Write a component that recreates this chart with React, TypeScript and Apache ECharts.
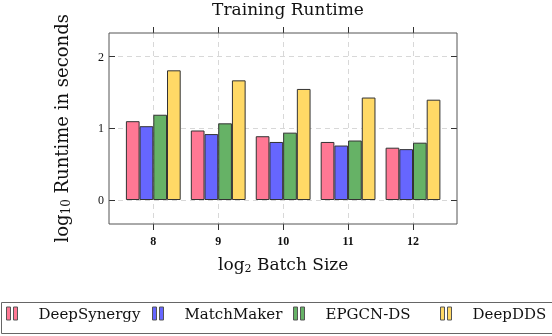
import React, { useEffect, useRef } from "react";
import * as echarts from "echarts";

const categories = ["8", "9", "10", "11", "12"];
const deepSynergy = [1.1, 0.97, 0.89, 0.81, 0.73];
const matchMaker = [1.03, 0.92, 0.81, 0.76, 0.71];
const epgcnDS = [1.19, 1.07, 0.94, 0.83, 0.8];
const deepDDS = [1.81, 1.67, 1.55, 1.43, 1.4];
const seriesNames = ["DeepSynergy", "MatchMaker", "EPGCN-DS", "DeepDDS"];
const seriesColors = ["#ff7894", "#6666ff", "#66b266", "#ffd966"];
const yTicks = [0, 2, 1];

const SERIF = "'Liberation Serif', 'DejaVu Serif', serif";
const WIDE = "'DejaVu Serif', 'Liberation Serif', serif";

export default function App() {
  const ref = useRef<HTMLDivElement>(null);
  useEffect(() => {
    if (!ref.current) return;
    const chart = echarts.init(ref.current, undefined, { renderer: "svg" });
    const values = [deepSynergy, matchMaker, epgcnDS, deepDDS];
    const plotL = 109, plotW = 348, plotT = 33, plotH = 191;
    const catL = 153.3, catW = 259.7;
    const y0 = 200, y2 = 56.7;
    const dashed = { show: true, lineStyle: { color: "#d8d8d8", type: [5, 4] as any, width: 1 } };
    const legendLefts = [6, 152, 293, 440];
    chart.setOption({
      animation: false,
      title: {
        text: "Training Runtime",
        left: 283,
        textAlign: "center",
        top: -5,
        textStyle: { fontFamily: WIDE, fontSize: 17, fontWeight: "normal", color: "#111" },
      },
      grid: [
        { left: plotL, top: plotT, width: plotW, height: plotH, show: true, borderColor: "#555", borderWidth: 1, backgroundColor: "transparent", z: 5 },
        { left: plotL, top: y2, width: plotW, height: y0 - y2 },
        { left: catL, top: plotT, width: catW, height: plotH },
        { left: catL, top: y2, width: catW, height: y0 - y2 },
      ],
      xAxis: [
        { gridIndex: 0, type: "value", show: false },
        { gridIndex: 1, type: "value", show: false },
        {
          gridIndex: 2, type: "category", data: categories, boundaryGap: false, position: "bottom",
          axisLine: { show: false },
          axisTick: { show: true, inside: false, length: 6, interval: 0, lineStyle: { color: "#333" } },
          axisLabel: { interval: 0, margin: 11, fontFamily: SERIF, fontSize: 12, fontWeight: "bold", color: "#111" },
          splitLine: { ...dashed, interval: 0 },
          name: "{m|log}{s|2}{m| Batch Size}",
          nameLocation: "middle",
          nameGap: 29,
          nameTextStyle: {
            rich: {
              m: { fontFamily: WIDE, fontSize: 17, color: "#111", lineHeight: 22 },
              s: { fontFamily: WIDE, fontSize: 11, color: "#111", padding: [9, 0, 0, 0] },
            },
          },
        },
        {
          gridIndex: 2, type: "category", data: categories, boundaryGap: false, position: "top",
          axisLine: { show: false },
          axisTick: { show: true, inside: false, length: 6, interval: 0, lineStyle: { color: "#333" } },
          axisLabel: { show: false },
          splitLine: { show: false },
        },
        { gridIndex: 3, type: "category", data: categories, boundaryGap: false, show: false },
      ],
      yAxis: [
        { gridIndex: 0, type: "value", show: false },
        {
          gridIndex: 1, type: "value", min: yTicks[0], max: yTicks[1], interval: yTicks[2], position: "left",
          axisLine: { show: false },
          axisTick: { show: true, inside: true, length: 6, lineStyle: { color: "#333" } },
          axisLabel: { margin: 5, fontFamily: SERIF, fontSize: 12, color: "#111" },
          splitLine: dashed,
          name: "{m|log}{s|10}{m| Runtime in seconds}",
          nameLocation: "middle",
          nameGap: 37,
          nameTextStyle: {
            rich: {
              m: { fontFamily: WIDE, fontSize: 18, color: "#111", lineHeight: 22 },
              s: { fontFamily: WIDE, fontSize: 12, color: "#111", padding: [9, 0, 0, 0] },
            },
          },
        },
        {
          gridIndex: 1, type: "value", min: yTicks[0], max: yTicks[1], interval: yTicks[2], position: "right",
          axisLine: { show: false },
          axisTick: { show: true, inside: true, length: 6, lineStyle: { color: "#333" } },
          axisLabel: { show: false },
          splitLine: { show: false },
        },
        { gridIndex: 2, type: "value", show: false },
        { gridIndex: 3, type: "value", min: yTicks[0], max: yTicks[1], show: false },
      ],
      legend: seriesNames.map((n, i) => ({
        data: [n],
        left: legendLefts[i],
        top: 306,
        padding: 0,
        icon: "path://M0,0h4v13h-4zM7,0h4v13h-4z",
        itemWidth: 11,
        itemHeight: 13,
        itemStyle: { borderColor: "#555", borderWidth: 1 },
        textStyle: { fontFamily: WIDE, fontSize: 15, color: "#111", padding: [0, 0, 0, 16] },
      })),
      graphic: [
        { type: "rect", shape: { x: 1.5, y: 302.5, width: 600, height: 31 }, style: { fill: "none", stroke: "#666", lineWidth: 1 } },
      ],
      series: values.map((v, i) => ({
        name: seriesNames[i],
        type: "bar",
        xAxisIndex: 4,
        yAxisIndex: 4,
        data: v,
        barWidth: 13.7,
        barGap: "0%",
        clip: false,
        itemStyle: { color: seriesColors[i], borderColor: "#333", borderWidth: 1 },
      })),
    });
    return () => chart.dispose();
  }, []);
  return <div ref={ref} style={{ position: "fixed", left: 0, top: 0, width: 552, height: 336 }} />;
}
